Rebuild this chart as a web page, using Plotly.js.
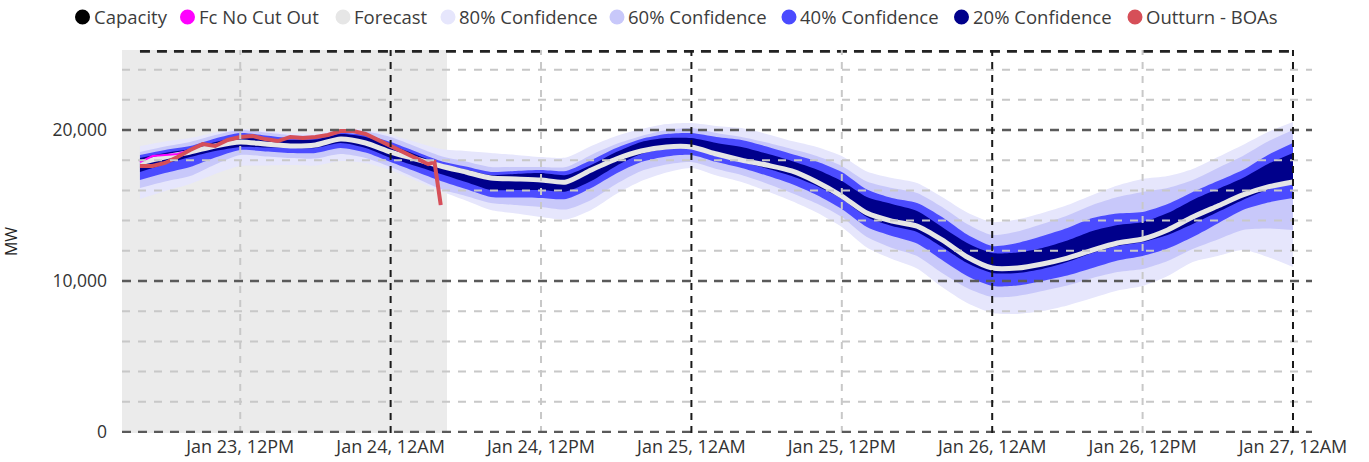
<!DOCTYPE html>
<html><head><meta charset="utf-8">
<script src="https://cdn.plot.ly/plotly-3.0.1.min.js"></script>
<style>html,body{margin:0;padding:0;background:#fff;} #chart{width:1369px;height:462px;}</style>
</head><body><div id="chart"></div>
<script>
// ---- data (2-hourly forecast and confidence bands, MW) ----
const times = [
  '2023-01-23 04:00','2023-01-23 06:00','2023-01-23 08:00','2023-01-23 10:00','2023-01-23 12:00','2023-01-23 14:00',
  '2023-01-23 16:00','2023-01-23 18:00','2023-01-23 20:00','2023-01-23 22:00','2023-01-24 00:00','2023-01-24 02:00',
  '2023-01-24 04:00','2023-01-24 06:00','2023-01-24 08:00','2023-01-24 10:00','2023-01-24 12:00','2023-01-24 14:00',
  '2023-01-24 16:00','2023-01-24 18:00','2023-01-24 20:00','2023-01-24 22:00','2023-01-25 00:00','2023-01-25 02:00',
  '2023-01-25 04:00','2023-01-25 06:00','2023-01-25 08:00','2023-01-25 10:00','2023-01-25 12:00','2023-01-25 14:00',
  '2023-01-25 16:00','2023-01-25 18:00','2023-01-25 20:00','2023-01-25 22:00','2023-01-26 00:00','2023-01-26 02:00',
  '2023-01-26 04:00','2023-01-26 06:00','2023-01-26 08:00','2023-01-26 10:00','2023-01-26 12:00','2023-01-26 14:00',
  '2023-01-26 16:00','2023-01-26 18:00','2023-01-26 20:00','2023-01-26 22:00','2023-01-27 00:00'];
const forecast = [17820,18210,18540,18940,19210,19070,18940,19010,19410,19140,18540,18080,17620,17220,16820,16760,16690,16560,
  17350,18080,18610,18880,18880,18410,18010,17680,17290,16560,15630,14500,13970,13640,12720,11590,10860,10860,
  11130,11520,12050,12520,12780,13380,14240,14970,15700,16230,16560];
const conf80Upper = [18940,19240,19470,19840,20070,19940,19800,19770,20070,20030,19670,19210,18740,18610,18480,18350,18210,18180,
  18940,19600,20070,20400,20470,20270,20130,19740,19270,18880,18280,17250,16820,16490,15560,14540,13910,14070,
  14500,15030,15700,16330,16760,16950,17420,18210,19010,19870,20530];
const conf60Upper = [18540,18910,19210,19670,20000,19840,19670,19640,19940,19900,19540,18910,18280,17920,17550,17550,17550,17550,
  18350,19070,19600,20000,20130,19800,19540,19170,18740,18280,17620,16590,16160,15830,14900,13780,13050,13280,
  13780,14340,15030,15560,15900,16160,16690,17490,18280,19240,20000];
const conf40Upper = [18350,18680,18940,19440,19800,19640,19470,19470,19800,19670,19210,18580,17950,17580,17220,17290,17350,17290,
  18010,18810,19410,19740,19800,19540,19340,18910,18410,17920,17220,16060,15500,15170,14240,13080,12320,12520,
  12980,13510,14170,14470,14570,15100,15900,16620,17350,18350,19140];
const conf20Upper = [18150,18480,18740,19210,19540,19440,19340,19370,19740,19540,19010,18380,17750,17390,17020,17090,17150,17020,
  17680,18540,19210,19470,19470,19140,18880,18440,17950,17390,16620,15560,15100,14640,13580,12520,11860,11890,
  12190,12680,13310,13710,13910,14500,15370,16090,16820,17750,18480];
const conf20Lower = [17220,17750,18210,18610,18880,18840,18810,18810,19140,18810,18150,17620,17090,16560,16030,16030,16030,15930,
  16620,17620,18410,18740,18810,18310,17880,17450,16950,16290,15430,14240,13640,13250,12250,11190,10530,10530,
  10800,11260,11860,12320,12580,13050,13780,14570,15370,16060,16560];
const conf40Lower = [16690,17150,17550,18180,18680,18580,18480,18480,18810,18510,17880,17250,16620,16090,15560,15530,15500,15430,
  16160,17120,17880,18250,18350,17880,17490,16990,16430,15700,14770,13580,12980,12480,11390,10330,9670,9700,
  10000,10360,10860,11360,11660,12150,12910,13810,14700,15200,15500];
const conf60Lower = [16160,16590,16950,17720,18350,18250,18150,18110,18410,18150,17550,16820,16090,15630,15170,15030,14900,14740,
  15370,16430,17290,17720,17880,17420,17020,16460,15830,15130,14240,12910,12190,11660,10530,9540,8940,9010,
  9340,9700,10200,10600,10800,11330,12120,12750,13380,13480,13380];
const conf80Lower = [15430,15960,16430,17090,17620,17650,17680,17650,17950,17820,17350,16660,15960,15330,14700,14470,14240,14070,
  14700,15760,16620,17190,17490,16990,16560,15960,15300,14540,13580,12220,11460,10830,9600,8540,7880,7820,
  8010,8380,8870,9370,9670,10330,11260,11660,12050,11590,10930];

const outturnTimes = ['2023-01-23 04:00','2023-01-23 05:00','2023-01-23 06:00','2023-01-23 07:00','2023-01-23 08:00',
  '2023-01-23 09:00','2023-01-23 10:00','2023-01-23 11:00','2023-01-23 12:00','2023-01-23 13:00','2023-01-23 14:00',
  '2023-01-23 15:00','2023-01-23 16:00','2023-01-23 17:00','2023-01-23 18:00','2023-01-23 19:00','2023-01-23 20:00',
  '2023-01-23 21:00','2023-01-23 22:00','2023-01-23 23:00','2023-01-24 00:00','2023-01-24 01:00','2023-01-24 02:00',
  '2023-01-24 03:00','2023-01-24 03:30','2023-01-24 04:00'];
const outturnBOAs = [17620,17620,17820,18210,18680,19070,18940,19340,19540,19600,19400,19270,19540,19470,19540,19670,19930,19930,19740,19340,18880,18540,18150,17750,17880,15030];
const fcNoCutOut  = [17880,18280,18350,18410,18680,19070,18940,19340,19540,19600,19400,19270,19540,19470,19540,19670,19930,19930,19740,19340,18880,18540,18150,17750,17880,15030];

const capacityTimes = ['2023-01-23 04:00','2023-01-27 00:00'];
const capacityValues = [25230,25230];

const seriesNames = ['Capacity','Fc No Cut Out','Forecast','80% Confidence','60% Confidence','40% Confidence','20% Confidence','Outturn - BOAs'];

// axis/grid definitions
const xRange = ['2023-01-23 02:34','2023-01-27 01:31'];
const historyEnd = '2023-01-24 04:30';
const yMajor = [0,10000,20000];
const yMinor = [2000,4000,6000,8000,12000,14000,16000,18000,22000,24000];
const xMidnight = ['2023-01-24 00:00','2023-01-25 00:00','2023-01-26 00:00','2023-01-27 00:00'];
const xNoon = ['2023-01-23 12:00','2023-01-24 12:00','2023-01-25 12:00','2023-01-26 12:00'];

// ---- styles ----
const colors = {
  'Capacity':'#000000','Fc No Cut Out':'#ff00ff','Forecast':'#e6e6e6',
  '80% Confidence':'#e6e6fc','60% Confidence':'#c8c8fa','40% Confidence':'#4b4bff',
  '20% Confidence':'#00008b','Outturn - BOAs':'#d64f58'
};
const FONT = 'Open Sans, sans-serif';
const SMOOTH = 0.7;

const traces = [];
function band(lower, upper, name){
  traces.push({x:times, y:lower, type:'scatter', mode:'lines', line:{width:0, shape:'spline', smoothing:SMOOTH},
    showlegend:false, hoverinfo:'skip', name:name+' lower'});
  traces.push({x:times, y:upper, type:'scatter', mode:'lines', line:{width:0, shape:'spline', smoothing:SMOOTH},
    fill:'tonexty', fillcolor:colors[name], showlegend:false, name:name});
}
band(conf80Lower, conf80Upper, '80% Confidence');
band(conf60Lower, conf60Upper, '60% Confidence');
band(conf40Lower, conf40Upper, '40% Confidence');
band(conf20Lower, conf20Upper, '20% Confidence');
traces.push({x:times, y:forecast, type:'scatter', mode:'lines', name:'Forecast',
  line:{color:colors['Forecast'], width:5, shape:'spline', smoothing:SMOOTH}, showlegend:false});
traces.push({x:outturnTimes, y:fcNoCutOut, type:'scatter', mode:'lines', name:'Fc No Cut Out',
  line:{color:colors['Fc No Cut Out'], width:2}, showlegend:false});
traces.push({x:outturnTimes, y:outturnBOAs, type:'scatter', mode:'lines', name:'Outturn - BOAs',
  line:{color:colors['Outturn - BOAs'], width:4}, showlegend:false});
traces.push({x:capacityTimes, y:capacityValues, type:'scatter', mode:'lines', name:'Capacity',
  line:{color:'#222', width:3.5, dash:'10px,7px'}, showlegend:false});

const shapes = [];
shapes.push({type:'rect', xref:'x', yref:'paper', x0:xRange[0], x1:historyEnd, y0:0, y1:1,
  fillcolor:'#ebebeb', line:{width:0}, layer:'below'});
yMinor.forEach(v => shapes.push({type:'line', xref:'paper', yref:'y', x0:0, x1:1, y0:v, y1:v,
  line:{color:'#c8c8c8', width:2, dash:'8px,8px'}, layer:'above'}));
xNoon.forEach(v => shapes.push({type:'line', xref:'x', yref:'paper', x0:v, x1:v, y0:0, y1:1,
  line:{color:'#c8c8c8', width:2, dash:'7px,7px'}, layer:'above'}));
yMajor.forEach(v => shapes.push({type:'line', xref:'paper', yref:'y', x0:0, x1:1, y0:v, y1:v,
  line:{color:'#5a5a5a', width:2.5, dash:'9px,7px'}, layer:'above'}));
xMidnight.forEach(v => shapes.push({type:'line', xref:'x', yref:'paper', x0:v, x1:v, y0:0, y1:1,
  line:{color:'#1a1a1a', width:2, dash:'7px,6px'}, layer:'above'}));

// legend drawn as circle + text at the legend entry positions
const W = 1369, H = 462, M = {l:122, r:57, t:50, b:29};
const pw = W - M.l - M.r, ph = H - M.t - M.b;
const legendCircleX = [82.5, 187.5, 343, 448, 617, 789, 961.5, 1135];
const legendY = 17;
const annotations = [];
seriesNames.forEach((name, i) => {
  const cx = (legendCircleX[i] - M.l) / pw;
  const cy = (H - M.b - legendY) / ph;
  shapes.push({type:'circle', xref:'paper', yref:'paper', xsizemode:'pixel', ysizemode:'pixel',
    xanchor:cx, yanchor:cy, x0:-7.5, x1:7.5, y0:-7.5, y1:7.5,
    fillcolor:colors[name], line:{width:0}, layer:'above'});
  annotations.push({xref:'paper', yref:'paper', x:(legendCircleX[i] + 9 - M.l)/pw, y:cy,
    xanchor:'left', yanchor:'middle', showarrow:false, text:name,
    font:{family:FONT, size:18.5, color:'#3c3c3c'}});
});

const layout = {
  width:W, height:H, margin:M, paper_bgcolor:'#fff', plot_bgcolor:'rgba(0,0,0,0)',
  showlegend:false, font:{family:FONT, color:'#333'},
  xaxis:{type:'date', range:xRange, showgrid:false, zeroline:false, showline:false, ticks:'',
    tick0:'2023-01-23 12:00', dtick:43200000, tickformat:'%b %-d, %-I%p',
    tickfont:{family:FONT, size:18, color:'#333'}, ticklabelstandoff:1},
  yaxis:{range:[-66, 25300], showgrid:false, zeroline:false, showline:false, ticks:'',
    tickvals:yMajor, tickformat:',d', tickfont:{family:FONT, size:17.5, color:'#333'}, ticklabelstandoff:14,
    title:{text:'MW', font:{family:FONT, size:16, color:'#222'}, standoff:30}},
  shapes:shapes, annotations:annotations, hovermode:false
};
Plotly.newPlot('chart', traces, layout, {displayModeBar:false, staticPlot:true});
</script></body></html>
